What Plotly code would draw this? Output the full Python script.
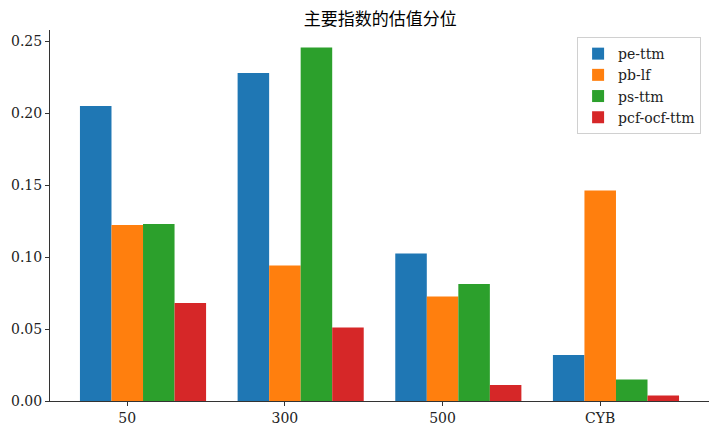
import plotly.graph_objects as go

categories = ["50", "300", "500", "CYB"]
series_names = ["pe-ttm", "pb-lf", "ps-ttm", "pcf-ocf-ttm"]
pe_ttm = [0.2049, 0.2278, 0.1024, 0.0319]
pb_lf = [0.1222, 0.0941, 0.0726, 0.1462]
ps_ttm = [0.1229, 0.2455, 0.0813, 0.0149]
pcf_ocf_ttm = [0.0680, 0.0510, 0.0111, 0.0038]
colors = ["#1f77b4", "#ff7f0e", "#2ca02c", "#d62728"]

series = [pe_ttm, pb_lf, ps_ttm, pcf_ocf_ttm]
width = 0.2
idx = list(range(len(categories)))

fig = go.Figure()
for k, (name, vals, col) in enumerate(zip(series_names, series, colors)):
    fig.add_trace(go.Bar(
        x=idx, y=vals, name=name,
        width=width, offset=-1.5 * width + k * width,
        marker=dict(color=col, line=dict(width=0)),
    ))

serif = "DejaVu Serif, serif"
fig.update_layout(
    width=720, height=432,
    barmode="overlay",
    plot_bgcolor="white", paper_bgcolor="white",
    margin=dict(l=50, r=11, t=30, b=31, autoexpand=False),
    title=dict(text="主要指数的估值分位", x=0.528, xanchor="center", y=0.956, yanchor="middle",
               font=dict(family="Noto Sans CJK SC", size=17, color="#000")),
    font=dict(family=serif, size=14, color="#222"),
    showlegend=True,
    legend=dict(x=0.988, y=0.981, xanchor="right", yanchor="top",
                bgcolor="rgba(255,255,255,0.8)", bordercolor="#d0d0d0", borderwidth=1,
                font=dict(family=serif, size=14), tracegroupgap=0, itemwidth=30),
    xaxis=dict(range=[-0.49, 3.69], tickvals=idx, ticktext=categories, automargin=False,
               showgrid=False, zeroline=False, showline=True, linecolor="#333", linewidth=1,
               ticks="outside", ticklen=4, tickcolor="#333", tickfont=dict(family=serif, size=14)),
    yaxis=dict(range=[0, 0.2577], tickvals=[0, 0.05, 0.10, 0.15, 0.20, 0.25], tickformat=".2f",
               automargin=False,
               showgrid=False, zeroline=False, showline=True, linecolor="#333", linewidth=1,
               ticks="outside", ticklen=4, tickcolor="#333", tickfont=dict(family=serif, size=14)),
)
fig.write_html("out.html", config={"displayModeBar": False},
               post_script="document.body.style.margin='0';document.body.style.padding='0';")
